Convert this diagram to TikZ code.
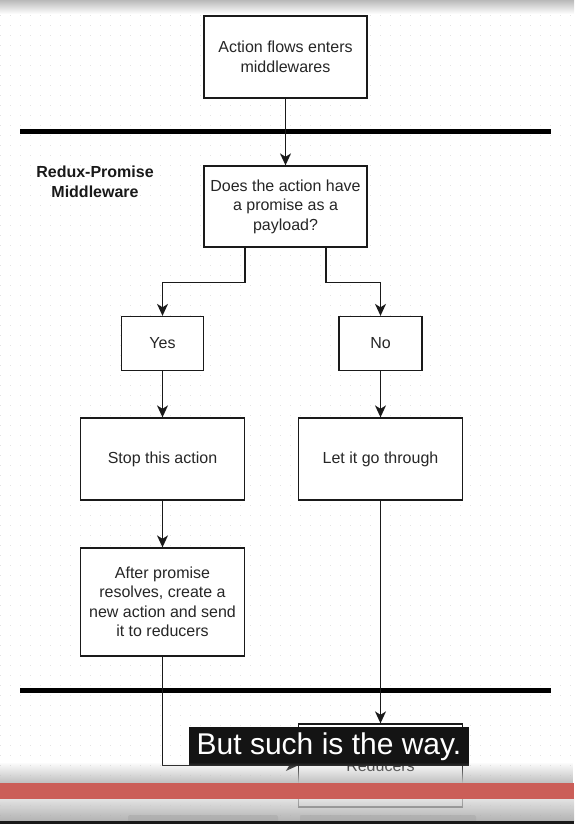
\documentclass[tikz,border=0pt]{standalone}
\usepackage{fontspec}
\setmainfont{Liberation Sans}
\usetikzlibrary{arrows.meta,calc,fadings}
\definecolor{lnc}{HTML}{1A1A1A}
\definecolor{redbar}{HTML}{CB5E58}
\tikzset{
  box/.style={draw=lnc, line width=1.3pt, fill=white, align=center, inner sep=0pt,
    font=\fontsize{16}{19.5}\selectfont, text=black!85},
  conn/.style={draw=lnc, line width=1.3pt},
  arr/.style={conn, -{Stealth[length=12pt,width=11pt,inset=3.5pt]}},
  sep/.style={line width=5pt, black},
  lbl/.style={font=\fontsize{16}{20}\selectfont\bfseries, align=center, text=black!90},
}
\begin{document}
\begin{tikzpicture}[x=1pt,y=-1pt]
\useasboundingbox (0,0) rectangle (574,824);
\fill[white] (0,0) rectangle (574,824);
% dot grid
\foreach \yy in {5,15,...,815}
  \draw[gray!22, line width=0.8pt, dash pattern=on 0.8pt off 9.2pt] (0,\yy) -- (574,\yy);
% top shade
\shade[top color=gray!55, bottom color=white] (0,0) rectangle (574,14);
% separators
\draw[sep] (20,131.5) -- (551,131.5);
\draw[sep] (20,690.5) -- (551,690.5);
% nodes
\node[box, minimum width=163pt, minimum height=82pt] (top) at (285.5,57) {Action flows enters\\middlewares};
\node[lbl] (mw) at (95,182) {Redux-Promise\\Middleware};
\node[box, minimum width=163pt, minimum height=81pt] (dec) at (285.5,206.5) {Does the action have\\a promise as a\\payload?};
\node[box, minimum width=82pt, minimum height=54pt] (yes) at (162.5,343.5) {Yes};
\node[box, minimum width=83pt, minimum height=54pt] (no) at (380.5,343.5) {No};
\node[box, minimum width=164pt, minimum height=82pt] (stop) at (162.5,459) {Stop this action};
\node[box, minimum width=164pt, minimum height=82pt] (let) at (380.5,459) {Let it go through};
\node[box, minimum width=164pt, minimum height=108pt] (after) at (162.5,602) {After promise\\resolves, create a\\new action and send\\it to reducers};
\node[box, minimum width=164pt, minimum height=83pt] (red) at (380.5,765.5) {Reducers};
% connectors
\draw[arr] (top) -- (dec);
\draw[arr] ([xshift=-40.5pt]dec.south) -- ++(0,35) -| (yes.north);
\draw[arr] ([xshift=40.5pt]dec.south) -- ++(0,35) -| (no.north);
\draw[arr] (yes) -- (stop);
\draw[arr] (no) -- (let);
\draw[arr] (stop) -- (after);
\draw[arr] (after.south) |- (red.west);
\draw[arr] (let) -- (red);
% caption
\node[fill=black!92, text=white, minimum width=280pt, minimum height=39pt, inner sep=0pt,
  font=\fontsize{30}{32}\selectfont] (cap) at (329,746.5) {But such is the way.};
% bottom shading
\fill[gray!50, path fading=north] (0,762) rectangle (574,783);
\fill[redbar] (0,783) rectangle (574,799);
\shade[top color=gray!30, bottom color=gray!80, opacity=0.75] (0,799) rectangle (574,821);
\fill[gray!70, rounded corners=2pt, opacity=0.5] (128,815) rectangle (278,823);
\fill[gray!70, rounded corners=2pt, opacity=0.5] (300,815) rectangle (476,823);
\fill[black!90] (0,821) rectangle (574,824);
\end{tikzpicture}
\end{document}
